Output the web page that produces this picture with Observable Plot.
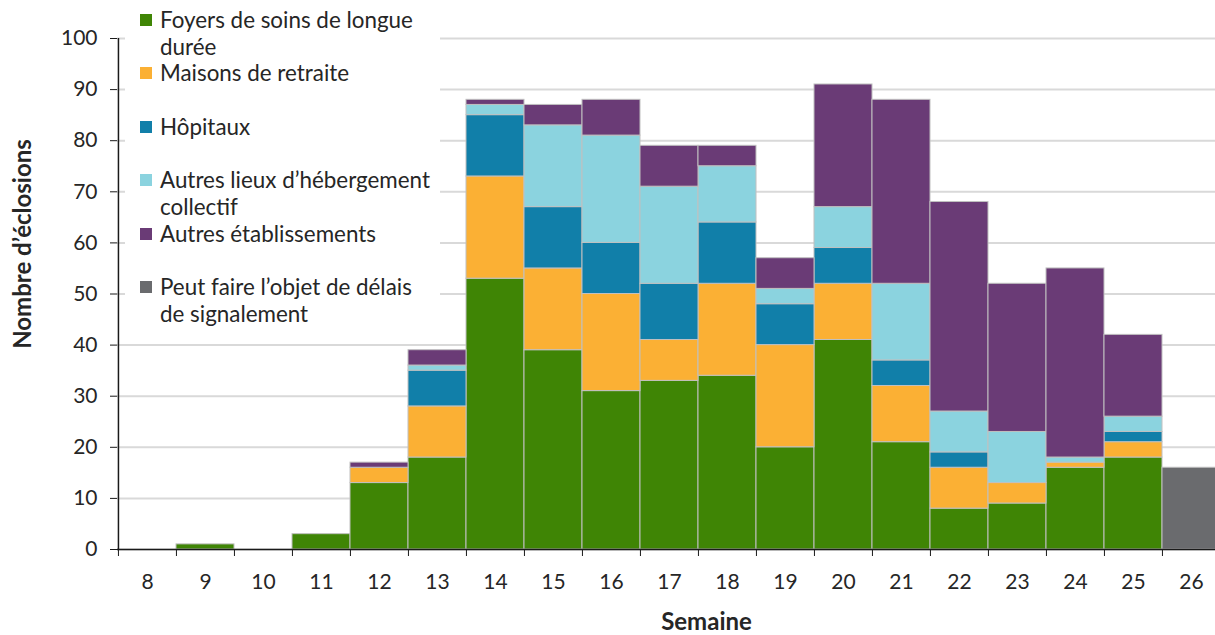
<!DOCTYPE html>
<html>
<head>
<meta charset="utf-8">
<script src="https://cdn.jsdelivr.net/npm/d3@7"></script>
<script src="https://cdn.jsdelivr.net/npm/@observablehq/plot@0.6"></script>
<style>
  html, body { margin: 0; padding: 0; background: #fff; overflow: hidden; }
  #wrap { position: relative; width: 1215px; height: 635px; font-family: Lato, "Open Sans", sans-serif; }
  #legend { position: absolute; left: 125px; top: 0; width: 315px; height: 330px; background: #fff; padding-top: 7px; box-sizing: border-box; }
  .item { position: relative; height: 53.4px; padding-left: 35px; font-size: 22.4px; line-height: 26.7px; color: #262626; white-space: nowrap; }
  .sw { position: absolute; left: 15px; top: 7px; width: 12px; height: 12px; }
</style>
</head>
<body>
<div id="wrap"><div id="chart"></div><div id="legend"></div></div>
<script>
const weeks = [8, 9, 10, 11, 12, 13, 14, 15, 16, 17, 18, 19, 20, 21, 22, 23, 24, 25, 26];
const categories = [
  "Foyers de soins de longue durée",
  "Maisons de retraite",
  "Hôpitaux",
  "Autres lieux d’hébergement collectif",
  "Autres établissements",
  "Peut faire l’objet de délais de signalement"
];
const colors = ["#3f8505", "#fbb034", "#117fa9", "#8bd3df", "#6a3b76", "#6a6b6e"];
const foyers      = [0, 1, 0, 3, 13, 18, 53, 39, 31, 33, 34, 20, 41, 21, 8, 9, 16, 18, 0];
const maisons     = [0, 0, 0, 0, 3, 10, 20, 16, 19, 8, 18, 20, 11, 11, 8, 4, 1, 3, 0];
const hopitaux    = [0, 0, 0, 0, 0, 7, 12, 12, 10, 11, 12, 8, 7, 5, 3, 0, 0, 2, 0];
const autresLieux = [0, 0, 0, 0, 0, 1, 2, 16, 21, 19, 11, 3, 8, 15, 8, 10, 1, 3, 0];
const autresEtab  = [0, 0, 0, 0, 1, 3, 1, 4, 7, 8, 4, 6, 24, 36, 41, 29, 37, 16, 0];
const delais      = [0, 0, 0, 0, 0, 0, 0, 0, 0, 0, 0, 0, 0, 0, 0, 0, 0, 0, 16];
const yTicks = [0, 10, 20, 30, 40, 50, 60, 70, 80, 90, 100];

const series = [foyers, maisons, hopitaux, autresLieux, autresEtab, delais];
const rows = [];
series.forEach((vals, ci) => vals.forEach((v, wi) => {
  if (v > 0) rows.push({week: weeks[wi], cat: categories[ci], value: v});
}));

const font = "Lato, 'Open Sans', sans-serif";
const half = -(1221 - 117) / weeks.length / 2;

const chart = Plot.plot({
  width: 1215,
  height: 635,
  marginLeft: 117,
  marginRight: 0,
  marginTop: 38,
  marginBottom: 86,
  style: {fontFamily: font, fontSize: "21px", color: "#262626", background: "transparent", overflow: "visible"},
  x: {type: "band", domain: weeks, range: [117, 1221], padding: 0, label: null},
  y: {domain: [0, 100], label: null},
  color: {domain: categories, range: colors},
  marks: [
    Plot.gridY(yTicks, {stroke: "#d9d9d9", strokeOpacity: 1, strokeWidth: 2}),
    Plot.barY(rows, {x: "week", y: "value", fill: "cat", order: categories, stroke: "#c0c0c0", strokeWidth: 1}),
    Plot.ruleY([0], {stroke: "#1a1a1a", strokeWidth: 1.5}),
    Plot.ruleX([weeks[0]], {dx: half, y1: 0, y2: 100, stroke: "#1a1a1a", strokeWidth: 1.5}),
    Plot.axisY(yTicks, {tickSize: 7, tickPadding: 13, stroke: "#1a1a1a", label: null, fontSize: 21}),
    Plot.axisX({tickSize: 0, tickPadding: 25, label: null, fontSize: 21}),
    Plot.axisX({tickSize: 7, tickFormat: () => "", dx: half, stroke: "#1a1a1a", label: null}),
    Plot.text(["Semaine"], {frameAnchor: "bottom", textAnchor: "middle", lineAnchor: "middle", dx: 40, dy: 73, fontWeight: "bold", fontSize: 24, fill: "#262626"}),
    Plot.text(["Nombre d’éclosions"], {frameAnchor: "left", textAnchor: "middle", lineAnchor: "middle", rotate: -90, dx: -94, dy: -50, fontWeight: "bold", fontSize: 24, fill: "#262626"})
  ]
});
document.getElementById("chart").appendChild(chart);

const legend = d3.select("#legend");
const legendLines = [
  ["Foyers de soins de longue", "durée"],
  ["Maisons de retraite", ""],
  ["Hôpitaux", ""],
  ["Autres lieux d’hébergement", "collectif"],
  ["Autres établissements", ""],
  ["Peut faire l’objet de délais", "de signalement"]
];
categories.forEach((c, i) => {
  const it = legend.append("div").attr("class", "item");
  it.append("div").attr("class", "sw").style("background", colors[i]);
  it.append("div").text(legendLines[i][0]);
  it.append("div").html(legendLines[i][1] || "&nbsp;");
});
</script>
</body>
</html>
